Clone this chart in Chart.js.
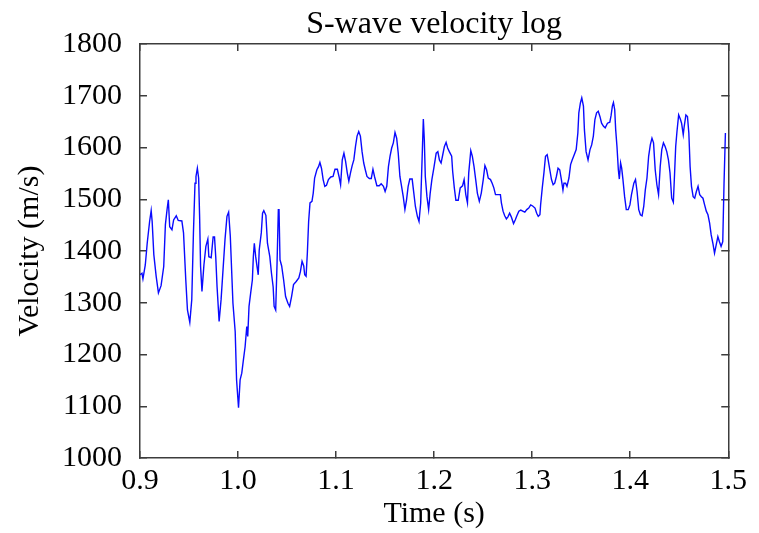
<!DOCTYPE html>
<html>
<head>
<meta charset="utf-8">
<script src="https://cdn.jsdelivr.net/npm/chart.js@4"></script>
<style>
  html, body { margin: 0; padding: 0; background: #fff; }
  #wrap { width: 759px; height: 533px; }
</style>
</head>
<body>
<div id="wrap"><canvas id="myChart"></canvas></div>
<script>
// picked off the plot: time (s) and S-wave velocity (m/s)
const timeS = [
  0.9000, 0.9020, 0.9030, 0.9054, 0.9074, 0.9098, 0.9114, 0.9124, 0.9141, 0.9165,
  0.9188, 0.9215, 0.9242, 0.9259, 0.9276, 0.9289, 0.9303, 0.9326, 0.9343, 0.9370,
  0.9390, 0.9427, 0.9444, 0.9467, 0.9484, 0.9508, 0.9528, 0.9545, 0.9561, 0.9571,
  0.9585, 0.9598, 0.9608, 0.9618, 0.9632, 0.9652, 0.9672, 0.9692, 0.9702, 0.9726,
  0.9746, 0.9760, 0.9773, 0.9786, 0.9807, 0.9827, 0.9847, 0.9867, 0.9887, 0.9904,
  0.9921, 0.9948, 0.9971, 0.9985, 1.0005, 1.0021, 1.0038, 1.0055, 1.0072, 1.0089,
  1.0099, 1.0112, 1.0129, 1.0146, 1.0156, 1.0166, 1.0180, 1.0196, 1.0206, 1.0216,
  1.0237, 1.0250, 1.0263, 1.0284, 1.0300, 1.0324, 1.0341, 1.0358, 1.0368, 1.0384,
  1.0398, 1.0411, 1.0418, 1.0428, 1.0445, 1.0465, 1.0485, 1.0509, 1.0526, 1.0546,
  1.0566, 1.0593, 1.0620, 1.0636, 1.0653, 1.0670, 1.0680, 1.0694, 1.0707, 1.0720,
  1.0734, 1.0754, 1.0767, 1.0781, 1.0804, 1.0821, 1.0835, 1.0851, 1.0868, 1.0885,
  1.0902, 1.0922, 1.0946, 1.0969, 1.0989, 1.1013, 1.1030, 1.1046, 1.1063, 1.1080,
  1.1097, 1.1114, 1.1130, 1.1147, 1.1164, 1.1181, 1.1198, 1.1214, 1.1231, 1.1248,
  1.1265, 1.1282, 1.1298, 1.1315, 1.1339, 1.1359, 1.1376, 1.1392, 1.1416, 1.1440,
  1.1460, 1.1483, 1.1500, 1.1517, 1.1534, 1.1550, 1.1567, 1.1584, 1.1601, 1.1618,
  1.1634, 1.1651, 1.1668, 1.1685, 1.1702, 1.1718, 1.1735, 1.1752, 1.1776, 1.1789,
  1.1809, 1.1829, 1.1846, 1.1863, 1.1876, 1.1890, 1.1900, 1.1910, 1.1927, 1.1944,
  1.1960, 1.1977, 1.1997, 1.2021, 1.2038, 1.2054, 1.2071, 1.2088, 1.2105, 1.2122,
  1.2138, 1.2155, 1.2179, 1.2189, 1.2206, 1.2222, 1.2246, 1.2266, 1.2290, 1.2306,
  1.2323, 1.2340, 1.2353, 1.2374, 1.2390, 1.2407, 1.2424, 1.2441, 1.2461, 1.2481,
  1.2501, 1.2518, 1.2535, 1.2552, 1.2575, 1.2592, 1.2609, 1.2626, 1.2676, 1.2686,
  1.2703, 1.2720, 1.2737, 1.2753, 1.2770, 1.2787, 1.2810, 1.2827, 1.2844, 1.2864,
  1.2884, 1.2904, 1.2925, 1.2945, 1.2965, 1.2985, 1.3005, 1.3029, 1.3046, 1.3062,
  1.3079, 1.3086, 1.3103, 1.3120, 1.3136, 1.3153, 1.3163, 1.3180, 1.3197, 1.3214,
  1.3230, 1.3247, 1.3264, 1.3281, 1.3298, 1.3314, 1.3324, 1.3341, 1.3355, 1.3375,
  1.3392, 1.3408, 1.3429, 1.3449, 1.3466, 1.3476, 1.3492, 1.3506, 1.3523, 1.3533,
  1.3550, 1.3570, 1.3590, 1.3607, 1.3624, 1.3640, 1.3657, 1.3674, 1.3691, 1.3708,
  1.3728, 1.3745, 1.3768, 1.3792, 1.3805, 1.3818, 1.3829, 1.3842, 1.3852, 1.3865,
  1.3879, 1.3889, 1.3902, 1.3913, 1.3926, 1.3943, 1.3960, 1.3980, 1.3997, 1.4013,
  1.4037, 1.4054, 1.4070, 1.4087, 1.4104, 1.4121, 1.4138, 1.4154, 1.4171, 1.4188,
  1.4205, 1.4222, 1.4238, 1.4255, 1.4272, 1.4289, 1.4306, 1.4322, 1.4339, 1.4356,
  1.4373, 1.4390, 1.4406, 1.4423, 1.4440, 1.4450, 1.4464, 1.4477, 1.4494, 1.4511,
  1.4524, 1.4541, 1.4551, 1.4568, 1.4584, 1.4598, 1.4611, 1.4625, 1.4642, 1.4658,
  1.4675, 1.4692, 1.4709, 1.4726, 1.4742, 1.4759, 1.4776, 1.4793, 1.4810, 1.4826,
  1.4843, 1.4860, 1.4877, 1.4894, 1.4910, 1.4927, 1.4944, 1.4957, 1.4971
];

const velocity = [
  1354, 1357, 1346, 1373, 1416, 1457, 1478, 1457, 1393, 1351,
  1319, 1333, 1370, 1451, 1480, 1499, 1447, 1441, 1460, 1468,
  1459, 1458, 1435, 1344, 1286, 1262, 1306, 1435, 1531, 1544,
  1560, 1541, 1467, 1370, 1322, 1373, 1409, 1423, 1389, 1387,
  1427, 1427, 1387, 1331, 1264, 1306, 1364, 1422, 1467, 1475,
  1429, 1299, 1244, 1151, 1097, 1151, 1164, 1190, 1215, 1254,
  1235, 1293, 1319, 1344, 1389, 1415, 1389, 1367, 1354, 1402,
  1435, 1473, 1478, 1469, 1415, 1389, 1357, 1331, 1293, 1286,
  1377, 1480, 1480, 1383, 1371, 1344, 1312, 1299, 1293, 1312,
  1335, 1341, 1348, 1360, 1380, 1371, 1354, 1351, 1396, 1457,
  1493, 1496, 1512, 1541, 1557, 1563, 1571, 1560, 1538, 1525,
  1527, 1538, 1543, 1544, 1558, 1558, 1544, 1528, 1576, 1589,
  1573, 1551, 1535, 1551, 1565, 1576, 1602, 1622, 1631, 1622,
  1592, 1570, 1557, 1544, 1540, 1540, 1558, 1544, 1526, 1526,
  1530, 1525, 1515, 1525, 1563, 1583, 1599, 1609, 1629, 1618,
  1589, 1544, 1525, 1505, 1480, 1498, 1525, 1539, 1539, 1518,
  1486, 1467, 1457, 1493, 1570, 1655, 1615, 1544, 1505, 1480,
  1512, 1538, 1560, 1589, 1592, 1576, 1570, 1586, 1602, 1610,
  1599, 1592, 1583, 1554, 1522, 1498, 1498, 1522, 1526, 1538,
  1509, 1493, 1551, 1594, 1583, 1563, 1538, 1512, 1496, 1512,
  1538, 1565, 1557, 1541, 1538, 1531, 1522, 1509, 1509, 1493,
  1477, 1468, 1462, 1466, 1473, 1466, 1453, 1460, 1468, 1477,
  1479, 1477, 1475, 1480, 1483, 1489, 1487, 1483, 1473, 1467,
  1470, 1489, 1522, 1551, 1583, 1586, 1576, 1557, 1538, 1528,
  1531, 1544, 1560, 1557, 1538, 1518, 1531, 1531, 1525, 1541,
  1567, 1576, 1586, 1596, 1628, 1667, 1686, 1696, 1680, 1634,
  1592, 1576, 1596, 1605, 1622, 1654, 1667, 1670, 1660, 1647,
  1641, 1638, 1647, 1649, 1662, 1680, 1687, 1673, 1634, 1602,
  1557, 1539, 1570, 1560, 1538, 1505, 1480, 1480, 1489, 1509,
  1531, 1538, 1515, 1480, 1470, 1468, 1486, 1518, 1541, 1583,
  1605, 1618, 1609, 1557, 1528, 1509, 1563, 1596, 1609, 1602,
  1592, 1576, 1551, 1502, 1494, 1538, 1602, 1631, 1663, 1655,
  1647, 1625, 1641, 1663, 1660, 1628, 1563, 1525, 1505, 1502,
  1515, 1525, 1509, 1505, 1502, 1489, 1477, 1470, 1454, 1431,
  1415, 1396, 1412, 1428, 1418, 1409, 1418, 1531, 1628
];

const xTicks = [0.9, 1.0, 1.1, 1.2, 1.3, 1.4, 1.5];
const yTicks = [1000, 1100, 1200, 1300, 1400, 1500, 1600, 1700, 1800];

const points = timeS.map((t, i) => ({ x: t, y: velocity[i] }));

const serif = 'Liberation Serif, Times New Roman, serif';
const frameColor = '#3c3c3c';

// one framed axis; the labelled ones sit bottom/left, bare copies top/right
function axis(position, ticks, labelled) {
  const horizontal = position === 'top' || position === 'bottom';
  return {
    type: 'linear',
    position: position,
    min: ticks[0],
    max: ticks[ticks.length - 1],
    afterBuildTicks: scale => {
      scale.ticks = ticks.map(v => ({ value: v }));
    },
    grid: {
      drawOnChartArea: false,
      drawTicks: true,
      tickLength: -7, // inward tick marks
      color: frameColor,
      lineWidth: 1.5
    },
    border: { display: true, color: frameColor, width: 1.5 },
    ticks: {
      display: labelled,
      color: '#000',
      font: { family: serif, size: 30 },
      padding: horizontal ? 12 : 25,
      maxRotation: 0,
      callback: v => (horizontal ? v.toFixed(1) : String(v))
    }
  };
}

const xAxis = axis('bottom', xTicks, true);
xAxis.title = {
  display: true,
  text: 'Time (s)',
  color: '#000',
  font: { family: serif, size: 30 },
  padding: { top: 0, bottom: 1 }
};
xAxis.afterFit = s => { s.height = 75; };

const yAxis = axis('left', yTicks, true);
yAxis.title = {
  display: true,
  text: 'Velocity (m/s)',
  color: '#000',
  font: { family: serif, size: 30 },
  padding: { top: 12, bottom: 0 }
};
yAxis.afterFit = s => { s.width = 140; };

const xTop = axis('top', xTicks, false);
xTop.afterFit = s => { s.height = 0; };

const yRight = axis('right', yTicks, false);
yRight.afterFit = s => { s.width = 24; };

const ctx = document.getElementById('myChart').getContext('2d');
const chart = new Chart(ctx, {
  type: 'line',
  data: {
    datasets: [
      {
        label: 'S-wave velocity',
        data: points,
        borderColor: '#0a0aff',
        borderWidth: 1.4,
        pointRadius: 0,
        tension: 0,
        fill: false
      }
    ]
  },
  options: {
    responsive: true,
    maintainAspectRatio: false,
    animation: false,
    layout: { padding: 0 },
    plugins: {
      legend: { display: false },
      tooltip: { enabled: false },
      title: {
        display: true,
        text: 'S-wave velocity log',
        fullSize: false,
        color: '#000',
        font: { family: serif, size: 32, weight: 'normal' },
        padding: { top: 5, bottom: 0.6 }
      }
    },
    scales: {
      x: xAxis,
      y: yAxis,
      x2: xTop,
      y2: yRight
    }
  }
});
</script>
</body>
</html>
